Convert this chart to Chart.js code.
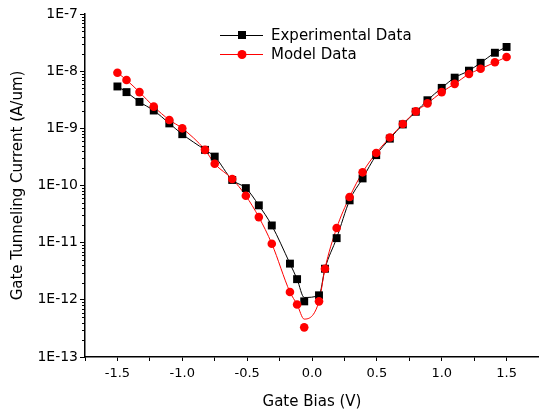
<!DOCTYPE html>
<html>
<head>
<meta charset="utf-8">
<script src="https://cdn.jsdelivr.net/npm/chart.js@4/dist/chart.umd.min.js"></script>
<style>
  html, body { margin: 0; padding: 0; background: #fff; }
  canvas { display: block; }
</style>
</head>
<body>
<canvas id="graph" width="539" height="414"></canvas>
<script>
// gate bias (V) of each measured / modelled point
const gateBias = [-1.5, -1.43, -1.33, -1.22, -1.1, -1.0, -0.825, -0.75, -0.615, -0.51, -0.41,
  -0.31, -0.17, -0.115, -0.06, 0.054, 0.1, 0.19, 0.29, 0.39, 0.495, 0.6, 0.7, 0.8, 0.89,
  1.0, 1.1, 1.21, 1.3, 1.41, 1.5]

// gate tunneling current (A/um)
const experimental = [5.4e-9, 4.3e-9, 2.9e-9, 2.05e-9, 1.22e-9, 7.9e-10, 4.2e-10, 3.2e-10, 1.25e-10, 9.0e-11, 4.5e-11,
  2.0e-11, 4.3e-12, 2.3e-12, 9.4e-13, 1.2e-12, 3.5e-12, 1.2e-11, 5.5e-11, 1.33e-10, 3.4e-10, 6.6e-10, 1.17e-9, 1.95e-9, 3.1e-9,
  5.1e-9, 7.7e-9, 1.02e-8, 1.4e-8, 2.1e-8, 2.65e-8]
const model = [9.4e-9, 7.0e-9, 4.3e-9, 2.4e-9, 1.4e-9, 1.0e-9, 4.2e-10, 2.4e-10, 1.3e-10, 6.6e-11, 2.8e-11,
  9.6e-12, 1.37e-12, 8.3e-13, 3.3e-13, 9.4e-13, 3.5e-12, 1.8e-11, 6.3e-11, 1.7e-10, 3.7e-10, 6.9e-10, 1.19e-9, 1.98e-9, 2.73e-9,
  4.3e-9, 6.0e-9, 8.9e-9, 1.1e-8, 1.43e-8, 1.77e-8]

// the smoothed lines don't go through the lowest points exactly
const experimentalLine = experimental.slice()
experimentalLine[14] = 1.1e-12
const modelLine = model.slice()
modelLine[14] = 4.6e-13

const xMajorTicks = [-1.5, -1.0, -0.5, 0.0, 0.5, 1.0, 1.5]
const xMinorTicks = [-1.75, -1.25, -0.75, -0.25, 0.25, 0.75, 1.25, 1.75]
const yDecades = [1e-13, 1e-12, 1e-11, 1e-10, 1e-9, 1e-8, 1e-7]
const yTickLabels = ['1E-13', '1E-12', '1E-11', '1E-10', '1E-9', '1E-8', '1E-7']

const toPoints = (ys) => ys.map((v, i) => ({x: gateBias[i], y: v}))

Chart.defaults.font.family = '"DejaVu Sans", Arial, sans-serif'
Chart.defaults.color = '#000'

const lineAndDots = {
  id: 'lineAndDots',
  afterDraw(chart) {
    const ctx = chart.ctx
    const area = chart.chartArea
    const y = chart.scales.y
    ctx.save()
    // minor ticks on the log axis
    ctx.strokeStyle = '#000'
    ctx.lineWidth = 1
    ctx.beginPath()
    yDecades.slice(0, -1).forEach(d => {
      for (let k = 2; k <= 9; k++) {
        const py = Math.round(y.getPixelForValue(d * k)) + 0.5
        ctx.moveTo(area.left - 3, py)
        ctx.lineTo(area.left, py)
      }
    })
    ctx.stroke()

    // legend
    const rows = [chart.data.datasets[1], chart.data.datasets[0]]
    ctx.font = '15px "DejaVu Sans", Arial, sans-serif'
    ctx.textBaseline = 'middle'
    rows.forEach((ds, i) => {
      const ly = 35 + i * 19
      ctx.strokeStyle = ds.borderColor
      ctx.lineWidth = 1
      ctx.beginPath()
      ctx.moveTo(220, ly + 0.5)
      ctx.lineTo(263, ly + 0.5)
      ctx.stroke()
      ctx.fillStyle = ds.pointBackgroundColor
      if (ds.pointStyle === 'rect') {
        ctx.fillRect(242 - 4, ly - 4, 8, 8)
      } else {
        ctx.beginPath()
        ctx.arc(242, ly + 0.5, 4.5, 0, Math.PI * 2)
        ctx.fill()
      }
      ctx.fillStyle = '#000'
      ctx.fillText(ds.label, 271, ly + 1)
    })
    ctx.restore()
  }
}

const config = {
  type: 'line',
  data: {
    datasets: [
      {
        label: 'Model Data',
        data: toPoints(model),
        showLine: false,
        pointStyle: 'circle',
        pointRadius: 4.3,
        pointBorderWidth: 0,
        pointBackgroundColor: '#ff0000',
        borderColor: '#ff0000',
        order: 0
      },
      {
        label: 'Experimental Data',
        data: toPoints(experimental),
        showLine: false,
        pointStyle: 'rect',
        pointRadius: 5.6,
        pointBorderWidth: 0,
        pointBackgroundColor: '#000000',
        borderColor: '#000000',
        order: 1
      },
      {
        label: 'model line',
        data: toPoints(modelLine),
        borderColor: '#ff0000',
        borderWidth: 1,
        pointRadius: 0,
        cubicInterpolationMode: 'monotone',
        order: 2
      },
      {
        label: 'experimental line',
        data: toPoints(experimentalLine),
        borderColor: '#000000',
        borderWidth: 1,
        pointRadius: 0,
        cubicInterpolationMode: 'monotone',
        order: 3
      }
    ]
  },
  options: {
    responsive: false,
    animation: false,
    devicePixelRatio: 1,
    layout: { autoPadding: false, padding: { top: 14, right: 0, left: 0, bottom: 0 } },
    plugins: { legend: { display: false }, tooltip: { enabled: false } },
    events: [],
    scales: {
      x: {
        type: 'linear',
        min: -1.75,
        max: 1.75,
        afterBuildTicks: (s) => {
          s.ticks = xMajorTicks.concat(xMinorTicks).sort((a, b) => a - b).map(v => ({value: v}))
        },
        afterFit: (s) => {
          s.height = 57
          s.paddingLeft = 0
          s.paddingRight = 0
        },
        ticks: {
          autoSkip: false,
          maxRotation: 0,
          padding: 5,
          font: { size: 13 },
          callback: (v) => xMajorTicks.includes(v) ? v.toFixed(1) : ''
        },
        grid: { drawOnChartArea: false, drawTicks: true, tickLength: 4, color: '#000' },
        border: { display: true, color: '#000', width: 1.5 },
        title: { display: true, text: 'Gate Bias (V)', font: { size: 15 }, padding: { top: 0, bottom: 3 } }
      },
      y: {
        type: 'logarithmic',
        min: 1e-13,
        max: 1e-7,
        afterBuildTicks: (s) => { s.ticks = yDecades.map(v => ({value: v})) },
        afterFit: (s) => { s.width = 85 },
        ticks: {
          autoSkip: false,
          padding: 2,
          font: { size: 14 },
          callback: (v, i) => yTickLabels[i]
        },
        grid: { drawOnChartArea: false, drawTicks: true, tickLength: 5, color: '#000' },
        border: { display: true, color: '#000', width: 1.5 },
        title: { display: true, text: 'Gate Tunneling Current (A/um)', font: { size: 15 }, padding: { top: 9, bottom: 0 } }
      }
    }
  },
  plugins: [lineAndDots]
}

const myChart = new Chart(document.getElementById('graph'), config)
</script>
</body>
</html>
